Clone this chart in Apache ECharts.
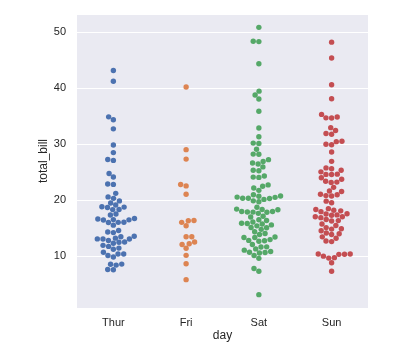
<!DOCTYPE html>
<html>
<head>
<meta charset="utf-8">
<script src="https://cdn.jsdelivr.net/npm/echarts@6/dist/echarts.min.js"></script>
<style>
  html, body { margin: 0; padding: 0; background: #fff; }
  #chart { width: 407px; height: 353px; }
</style>
</head>
<body>
<div id="chart"></div>
<script>
var days = ["Thur", "Fri", "Sat", "Sun"];

var thur = [27.2, 22.76, 17.29, 19.44, 16.66, 10.07, 32.68, 15.98, 34.83, 13.03, 18.28, 24.71, 21.16,
  10.65, 12.43, 24.08, 11.69, 13.42, 14.26, 15.95, 12.48, 29.8, 8.52, 14.52, 11.38, 22.82, 19.08,
  20.27, 11.17, 12.26, 18.26, 8.51, 10.33, 14.15, 16.0, 13.16, 17.47, 34.3, 41.19, 27.05, 16.43,
  8.35, 18.64, 11.87, 9.78, 7.51, 19.81, 28.44, 15.48, 16.58, 7.56, 10.34, 43.11, 13.0, 13.51,
  18.71, 12.74, 13.0, 16.4, 20.53, 16.47, 18.78];
var fri = [28.97, 22.49, 5.75, 16.32, 22.75, 40.17, 27.28, 12.03, 21.01, 12.46, 11.35, 15.38,
  12.16, 13.42, 8.58, 15.98, 13.42, 16.27, 10.09];
var sat = [20.65, 17.92, 20.29, 15.77, 39.42, 19.82, 17.81, 13.37, 12.69, 21.7, 19.65, 9.55, 18.35,
  15.06, 20.69, 17.78, 24.06, 16.31, 16.93, 18.69, 31.27, 16.04, 38.01, 26.41, 11.24, 48.27, 20.29,
  13.81, 11.02, 18.29, 17.59, 20.08, 16.45, 3.07, 20.23, 15.01, 12.02, 17.07, 26.86, 25.28, 14.73,
  10.51, 17.92, 44.3, 22.42, 20.92, 15.36, 20.49, 25.21, 18.24, 14.31, 14.0, 7.25, 10.59, 10.63,
  50.81, 15.81, 26.59, 38.73, 24.27, 12.76, 30.06, 25.89, 48.33, 13.27, 28.17, 12.9, 28.15, 11.59,
  7.74, 30.14, 20.45, 13.28, 22.12, 24.01, 15.69, 11.61, 10.77, 15.53, 10.07, 12.6, 32.83, 35.83,
  29.03, 27.18, 22.67, 17.82];
var sun = [16.99, 10.34, 21.01, 23.68, 24.59, 25.29, 8.77, 26.88, 15.04, 14.78, 10.27, 35.26, 15.42,
  18.43, 14.83, 21.58, 10.33, 16.29, 16.97, 17.46, 13.94, 9.68, 30.4, 18.29, 22.23, 32.4, 28.55,
  18.04, 12.54, 10.29, 34.81, 9.94, 25.56, 19.49, 38.07, 23.95, 25.71, 17.31, 29.93, 14.07, 13.13,
  17.26, 24.55, 19.77, 29.85, 48.17, 25.0, 13.39, 16.49, 21.5, 12.66, 16.21, 13.81, 17.51, 24.52,
  20.76, 31.71, 7.25, 31.85, 16.82, 32.9, 17.89, 14.48, 9.6, 34.63, 34.65, 23.33, 45.35, 23.17,
  40.55, 20.69, 20.9, 30.46, 18.15, 23.1, 15.69];

var yTicks = [10, 20, 30, 40, 50];
var bills = [thur, fri, sat, sun];
var colors = ["#4c72b0", "#dd8452", "#55a868", "#c44e52"];

var R = 2.7; // dot radius in px
var textColor = "#262626";
var font = "Liberation Sans, Arial, sans-serif";

var chart = echarts.init(document.getElementById("chart"));

var option = {
  animation: false,
  grid: {
    left: 77, right: 39, top: 14, bottom: 45,
    show: true, backgroundColor: "#eaeaf2", borderWidth: 0
  },
  xAxis: [
    {
      type: "category",
      data: days,
      name: "day",
      nameLocation: "middle",
      nameGap: 22,
      nameMoveOverlap: false,
      nameTextStyle: { color: textColor, fontSize: 12, fontFamily: font },
      axisLine: { show: false },
      axisTick: { show: false },
      axisLabel: { color: textColor, fontSize: 11, fontFamily: font, margin: 9 },
      splitLine: { show: false }
    },
    { type: "value", min: -0.5, max: 3.5, show: false }
  ],
  yAxis: {
    type: "value",
    min: 0.683,
    max: 53.197,
    name: "total_bill",
    nameLocation: "middle",
    nameGap: 27,
    nameMoveOverlap: false,
    nameTextStyle: { color: textColor, fontSize: 12, fontFamily: font },
    axisLine: { show: false },
    axisTick: { show: false },
    axisLabel: {
      color: textColor, fontSize: 11, fontFamily: font, margin: 11,
      showMinLabel: false, showMaxLabel: false,
      formatter: function (v) { return yTicks.indexOf(v) >= 0 ? String(v) : ""; }
    },
    splitLine: { lineStyle: { color: "#ffffff", width: 1 } }
  },
  series: days.map(function (d, k) {
    return {
      type: "scatter",
      name: d,
      xAxisIndex: 1,
      symbol: "circle",
      symbolSize: 2 * R,
      itemStyle: { color: colors[k], opacity: 1 },
      emphasis: { disabled: true },
      data: []
    };
  })
};
chart.setOption(option);

// beeswarm layout (same approach as seaborn), done in pixel space
function swarm(vals, k) {
  var cx = chart.convertToPixel({ seriesIndex: k }, [k, 0])[0];
  var pts = vals.map(function (v) {
    return { v: v, y: -chart.convertToPixel({ seriesIndex: k }, [k, v])[1] };
  });
  pts.sort(function (a, b) { return a.y - b.y; });
  var placed = [];
  pts.forEach(function (p, i) {
    if (i === 0) { placed.push({ x: cx, y: p.y, v: p.v }); return; }
    var nb = [];
    for (var j = placed.length - 1; j >= 0; j--) {
      if (p.y - placed[j].y < 2 * R) nb.unshift(placed[j]); else break;
    }
    var cands = [cx];
    var leftFirst = true;
    nb.forEach(function (q) {
      var dy = p.y - q.y;
      var dx = Math.sqrt(Math.max(4 * R * R - dy * dy, 0)) * 1.05;
      if (leftFirst) cands.push(q.x - dx, q.x + dx); else cands.push(q.x + dx, q.x - dx);
      leftFirst = !leftFirst;
    });
    cands = cands.map(function (x, idx) { return { x: x, idx: idx }; });
    cands.sort(function (a, b) {
      var d = Math.abs(a.x - cx) - Math.abs(b.x - cx);
      if (Math.abs(d) < 1e-6) return a.idx - b.idx;
      return d;
    });
    var chosen = cands[0].x;
    if (nb.length) {
      for (var c = 0; c < cands.length; c++) {
        var ok = nb.every(function (q) {
          var ddx = q.x - cands[c].x, ddy = q.y - p.y;
          return ddx * ddx + ddy * ddy >= 4 * R * R;
        });
        if (ok) { chosen = cands[c].x; break; }
      }
    }
    placed.push({ x: chosen, y: p.y, v: p.v });
  });
  return placed.map(function (s) {
    return [chart.convertFromPixel({ seriesIndex: k }, [s.x, 0])[0], s.v];
  });
}

chart.setOption({
  series: bills.map(function (vals, k) { return { data: swarm(vals, k) }; })
});
</script>
</body>
</html>
